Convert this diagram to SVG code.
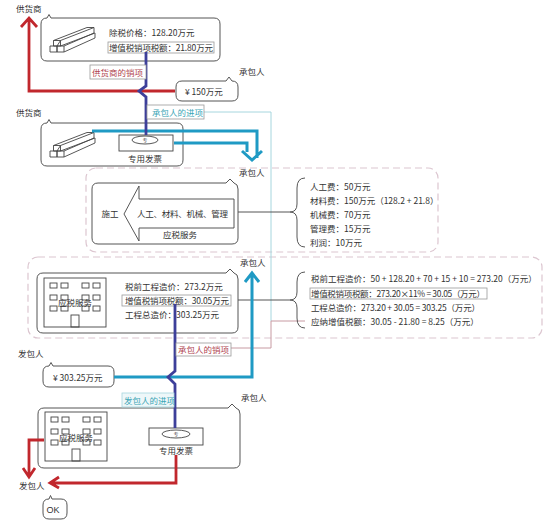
<svg xmlns="http://www.w3.org/2000/svg" width="549" height="521" viewBox="0 0 549 521">
<style>
text{font-family:"Noto Sans CJK SC","Liberation Sans",sans-serif;font-size:8.5px;fill:#333}
.c{text-anchor:middle}
.tiny{font-size:5px}
.bub{fill:#fff;stroke:#555;stroke-width:1}
.sh{fill:#fff;stroke:#444;stroke-width:.9}
.ln{fill:none;stroke:#444;stroke-width:.9}
.dash{fill:none;stroke:#dcc6d0;stroke-width:1.2;stroke-dasharray:7 4}
.red{fill:none;stroke:#c1272d;stroke-width:2.8}
.navy{fill:none;stroke:#3d3f9a;stroke-width:2.8}
.cy{fill:none;stroke:#1f9ac4;stroke-width:3}
.lab{fill:#fff;stroke:#999;stroke-width:.8}
</style>
<defs>
<g id="steel" class="ln">
<path class="sh" d="M50 46h7v6h-7zM57 46h7v6h-7zM53.500 40.500h7v5.500h-7z"/>
<path class="ln" d="M53.500 40.500L87 27.500h7l-33.500 13M60.500 46L95 33v5L64 52M94 27.500V33M57 46l3.500-5.500M64 46l30-13"/>
</g>
<g id="building">
<rect class="sh" x="0" y="0" width="62" height="49"/>
<g class="ln">
<rect x="6" y="5" width="7" height="5"/><rect x="17" y="5" width="7" height="5"/><rect x="38" y="5" width="7" height="5"/><rect x="49" y="5" width="7" height="5"/>
<rect x="6" y="17" width="7" height="5"/><rect x="17" y="17" width="7" height="5"/><rect x="38" y="17" width="7" height="5"/><rect x="49" y="17" width="7" height="5"/>
<rect x="6" y="28" width="7" height="5"/><rect x="17" y="28" width="7" height="5"/><rect x="38" y="28" width="7" height="5"/><rect x="49" y="28" width="7" height="5"/>
<rect x="27" y="37" width="8" height="12"/>
</g>
</g>
</defs>

<g id="dashed-frames">
<rect class="dash" x="86" y="168" width="352" height="84" rx="10"/>
<rect class="dash" x="28" y="257" width="514" height="81" rx="10"/>
</g>

<g id="node-supplier-top">
<path class="bub" d="M47 18L49 14.500L51 18H214Q220 18 220 24V55Q220 61 214 61H47Q41 61 41 55V24Q41 18 47 18Z"/>
<use href="#steel"/>
<text x="109" y="36">除税价格：128.20万元</text>
<rect class="lab" x="108" y="42" width="106" height="11"/>
<text x="109" y="51" textLength="104">增值税销项税额：21.80万元</text>
</g>

<g id="node-payment-150">
<path class="bub" d="M182 81H226L229 77L232 81Q238 81 238 87V95Q238 101 232 101H182Q176 101 176 95V87Q176 81 182 81Z"/>
<text x="185" y="95">¥ 150万元</text>
</g>

<g id="node-supplier-invoice">
<path class="bub" d="M47 123L49 119.500L51 123H177Q183 123 183 129V160Q183 166 177 166H47Q41 166 41 160V129Q41 123 47 123Z"/>
<use href="#steel" y="105"/>
<rect class="sh" x="119" y="135" width="54" height="16"/>
<ellipse class="sh" cx="145" cy="140" rx="13" ry="4"/>
<text class="c tiny" x="145" y="142">专</text>
<text class="c" x="145" y="162">专用发票</text>
</g>

<g id="node-construction">
<path class="bub" d="M98 183H226L230 179L234 183Q238 184 238 189V238Q238 244 232 244H98Q92 244 92 238V189Q92 183 98 183Z"/>
<path class="sh" d="M124 214L139 186V199H234V228H139V241Z"/>
<text class="c" x="110" y="217">施工</text>
<text x="137" y="217" textLength="91">人工、材料、机械、管理</text>
<text class="c" x="180" y="238">应税服务</text>
</g>

<g id="node-tax-service">
<path class="bub" d="M43 273H226L230 269L234 273Q238 274 238 279V327Q238 333 232 333H43Q37 333 37 327V279Q37 273 43 273Z"/>
<use href="#building" x="44" y="278"/>
<text class="c" x="75" y="306">应税服务</text>
<text x="125" y="290">税前工程造价：273.2万元</text>
<rect class="lab" x="122" y="295" width="109" height="11"/>
<text x="125" y="304" textLength="104">增值税销项税额：30.05万元</text>
<text x="125" y="318">工程总造价：303.25万元</text>
</g>

<g id="node-payment-303">
<path class="bub" d="M49 366L51 362.500L53 366H108Q114 366 114 372V381Q114 387 108 387H49Q43 387 43 381V372Q43 366 49 366Z"/>
<text x="53" y="381">¥ 303.25万元</text>
</g>

<g id="node-contractor-bottom">
<path class="bub" d="M44 408H228L232 404L236 408Q240 409 240 414V462Q240 468 234 468H44Q38 468 38 462V414Q38 408 44 408Z"/>
<use href="#building" x="45" y="412"/>
<text class="c" x="76" y="441">应税服务</text>
<rect class="sh" x="149" y="428" width="54" height="17"/>
<ellipse class="sh" cx="176" cy="434" rx="14" ry="4"/>
<text class="c tiny" x="176" y="436">专</text>
<text class="c" x="176" y="454">专用发票</text>
</g>

<g id="node-ok">
<path class="bub" d="M49 499L50.500 495.500L52 499H61Q67 499 67 505V513Q67 519 61 519H49Q43 519 43 513V505Q43 499 49 499Z"/>
<text class="c" x="53" y="513" style="font-family:'Liberation Sans',sans-serif;font-size:9px">OK</text>
</g>

<g id="connectors">
<path fill="none" stroke="#a6d6de" stroke-width="1" d="M204 112H271V321"/>
<path fill="none" stroke="#c79aa2" stroke-width="1" d="M305 321H271V348H231"/>
<path fill="none" stroke="#555" stroke-width="1" d="M238 212H290M238 300H290"/>
<path class="ln" d="M305 178Q297 178 297 188V204Q297 212 290 212Q297 212 297 220V237Q297 247 305 247"/>
<path class="ln" d="M305 272Q297 272 297 282V292Q297 300 290 300Q297 300 297 308V318Q297 328 305 328"/>
<path class="red" d="M175 91H29V19M21 27L29 18L37 27"/>
<path class="cy" d="M92 131H257V158M174 143H247V152M242 151L252 160L262 151"/>
<path class="navy" d="M146 52V86L139 91L146 97V135"/>
<path class="cy" d="M114 377H252V274M245 282L252 273L259 282"/>
<path class="navy" d="M175 304V371L168 377L175 384V428"/>
<path class="red" d="M44 440H29V476M23 468L29 477L35 468M176 455V483H50M59 477L50 483L59 488"/>
</g>

<g id="labels">
<rect class="lab" x="90" y="65" width="56" height="14"/>
<text x="92" y="76" style="fill:#b0454f">供货商的销项</text>
<rect class="lab" x="147" y="105" width="57" height="14"/>
<text x="152" y="116" style="fill:#3aa5b5">承包人的进项</text>
<rect class="lab" x="176" y="343" width="55" height="13"/>
<text x="178" y="353" style="fill:#b0454f">承包人的销项</text>
<rect fill="#eef7f9" stroke="#a6d6de" stroke-width=".8" x="122" y="393" width="52" height="14"/>
<text x="124" y="404" style="fill:#3aa5b5">发包人的进项</text>
<text x="16" y="12">供货商</text>
<text x="239" y="75">承包人</text>
<text x="16" y="116">供货商</text>
<text x="239" y="176">承包人</text>
<text x="240" y="266">承包人</text>
<text x="18" y="357">发包人</text>
<text x="241" y="401">承包人</text>
<text x="19" y="489">发包人</text>
<text x="310" y="190">人工费：50万元</text>
<text x="310" y="204">材料费：150万元（128.2 + 21.8）</text>
<text x="310" y="218">机械费：70万元</text>
<text x="310" y="232">管理费：15万元</text>
<text x="310" y="246">利润：10万元</text>
<text x="311" y="282">税前工程造价：50 + 128.20 + 70 + 15 + 10 = 273.20（万元）</text>
<rect class="lab" x="310" y="288" width="177" height="11"/>
<text x="311" y="297" textLength="174">增值税销项税额：273.20×11% = 30.05（万元）</text>
<text x="311" y="311" textLength="169">工程总造价：273.20 + 30.05 = 303.25（万元）</text>
<text x="311" y="325">应纳增值税额：30.05 - 21.80 = 8.25（万元）</text>
</g>
</svg>
